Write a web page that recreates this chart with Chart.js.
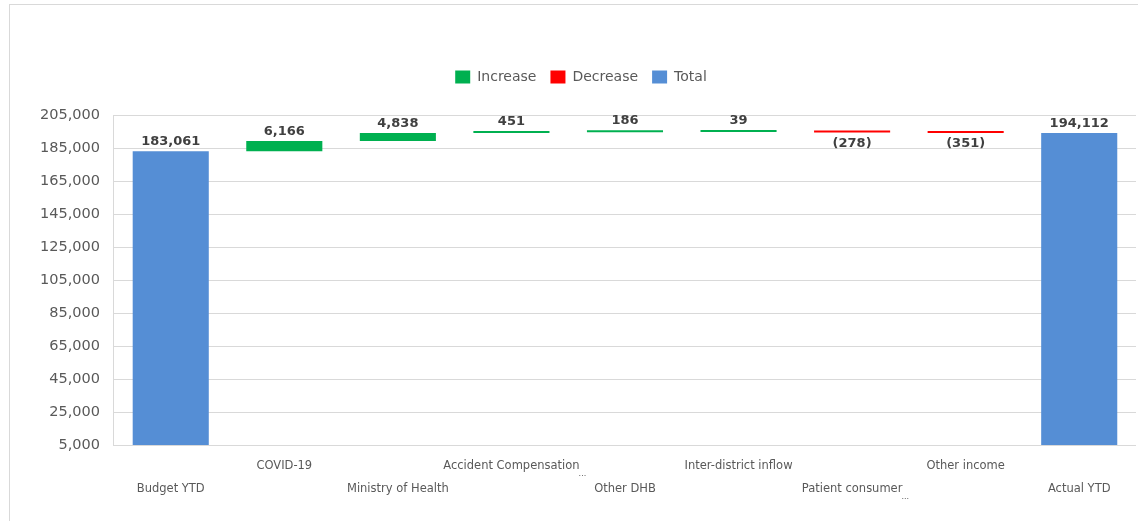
<!DOCTYPE html>
<html>
<head>
<meta charset="utf-8">
<script src="https://cdn.jsdelivr.net/npm/chart.js@4.4.1/dist/chart.umd.min.js"></script>
<style>
  html, body { margin: 0; padding: 0; background: #ffffff; }
  #wrap { position: relative; width: 1138px; height: 521px; overflow: hidden; }
  #frame { position: absolute; left: 9px; top: 4px; width: 1140px; height: 530px;
           border-left: 1px solid #d9d9d9; border-top: 1px solid #d9d9d9; box-sizing: border-box; }
  #chart { position: absolute; left: 0; top: 0; }
</style>
</head>
<body>
<div id="wrap">
  <div id="frame"></div>
  <canvas id="chart" width="1138" height="521"></canvas>
</div>
<script>
// Revenue bridge: budget to actual, year to date
const categories = ['Budget YTD', 'COVID-19', 'Ministry of Health', 'Accident Compensation',
  'Other DHB', 'Inter-district inflow', 'Patient consumer', 'Other income', 'Actual YTD'];
const shortened = [false, false, false, true, false, false, true, false, false];
const kinds = ['total', 'increase', 'increase', 'increase', 'increase', 'increase', 'decrease', 'decrease', 'total'];
const amounts = [183061, 6166, 4838, 451, 186, 39, -278, -351, 194112];
const yTicks = [5000, 25000, 45000, 65000, 85000, 105000, 125000, 145000, 165000, 185000, 205000];
const seriesNames = ['Increase', 'Decrease', 'Total'];
const seriesColors = ['#00B050', '#FF0000', '#558ED5'];

// Floating [from, to] spans for each series
const increaseData = [], decreaseData = [], totalData = [];
let running = 0;
amounts.forEach((v, i) => {
  let inc = null, dec = null, tot = null;
  if (kinds[i] === 'total') {
    tot = [0, v];
    running = v;
  } else if (kinds[i] === 'increase') {
    inc = [running, running + v];
    running += v;
  } else {
    dec = [running, running + v];
    running += v;
  }
  increaseData.push(inc); decreaseData.push(dec); totalData.push(tot);
});

const fmt = n => Math.abs(n).toLocaleString('en-US');
const labelText = i => amounts[i] < 0 ? '(' + fmt(amounts[i]) + ')' : fmt(amounts[i]);

// Extra space between the legend and the plot
const legendGap = {
  id: 'legendGap',
  beforeInit(chart) {
    const lg = chart.legend;
    if (!lg) return;
    const fit = lg.fit;
    lg.fit = function () {
      fit.call(this);
      this.height += 21;
    };
  }
};

// Value labels above rising/total bars, below falling bars
const valueLabels = {
  id: 'valueLabels',
  afterDatasetsDraw(chart) {
    const ctx = chart.ctx;
    ctx.save();
    ctx.font = 'bold 13px "DejaVu Sans"';
    ctx.fillStyle = '#404040';
    ctx.textAlign = 'center';
    ctx.textBaseline = 'middle';
    chart.data.datasets.forEach((ds, di) => {
      const meta = chart.getDatasetMeta(di);
      meta.data.forEach((el, i) => {
        if (ds.data[i] == null) return;
        const p = el.getProps(['x', 'y', 'base'], true);
        const top = Math.min(p.y, p.base);
        const bottom = Math.max(p.y, p.base);
        if (kinds[i] === 'decrease') {
          ctx.fillText(labelText(i), p.x, bottom + 11);
        } else {
          ctx.fillText(labelText(i), p.x, top - 9.5);
        }
      });
    });
    ctx.restore();
  }
};

// Category names on two staggered rows
const staggeredLabels = {
  id: 'staggeredLabels',
  afterDraw(chart) {
    const ctx = chart.ctx;
    const xs = chart.scales.x;
    const area = chart.chartArea;
    ctx.save();
    ctx.font = '11.5px "DejaVu Sans"';
    ctx.fillStyle = '#595959';
    ctx.textAlign = 'center';
    ctx.textBaseline = 'middle';
    categories.forEach((c, i) => {
      const x = xs.getPixelForValue(i);
      const y = area.bottom + (i % 2 === 1 ? 21 : 44);
      ctx.fillText(c, x, y);
      if (shortened[i]) {
        const w = ctx.measureText(c).width;
        ctx.save();
        ctx.font = '8px "DejaVu Sans"';
        ctx.textAlign = 'left';
        ctx.fillText('...', x + w / 2 - 1, y + 8);
        ctx.restore();
      }
    });
    ctx.restore();
  }
};

new Chart(document.getElementById('chart'), {
  type: 'bar',
  data: {
    labels: categories,
    datasets: [
      { label: seriesNames[0], data: increaseData, backgroundColor: seriesColors[0] },
      { label: seriesNames[1], data: decreaseData, backgroundColor: seriesColors[1] },
      { label: seriesNames[2], data: totalData, backgroundColor: seriesColors[2] }
    ]
  },
  options: {
    responsive: false,
    animation: false,
    maintainAspectRatio: false,
    layout: { padding: { left: 26, right: 2, top: 56, bottom: 76 } },
    datasets: {
      bar: { categoryPercentage: 1, barPercentage: 0.67, minBarLength: 2, borderWidth: 0 }
    },
    plugins: {
      legend: {
        position: 'top',
        labels: {
          boxWidth: 15, boxHeight: 13, padding: 14,
          color: '#595959',
          font: { family: '"DejaVu Sans"', size: 14 }
        }
      },
      tooltip: { enabled: false }
    },
    scales: {
      x: {
        stacked: true,
        grid: { display: false, drawTicks: false },
        border: { display: false },
        ticks: { display: false }
      },
      y: {
        stacked: false,
        min: yTicks[0],
        max: yTicks[yTicks.length - 1],
        afterBuildTicks(scale) { scale.ticks = yTicks.map(v => ({ value: v })); },
        grid: { color: '#d9d9d9', drawTicks: false },
        border: { color: '#d9d9d9' },
        ticks: {
          padding: 14,
          color: '#595959',
          font: { family: '"DejaVu Sans"', size: 14.5 },
          callback: v => v.toLocaleString('en-US')
        }
      }
    }
  },
  plugins: [legendGap, valueLabels, staggeredLabels]
});
</script>
</body>
</html>
